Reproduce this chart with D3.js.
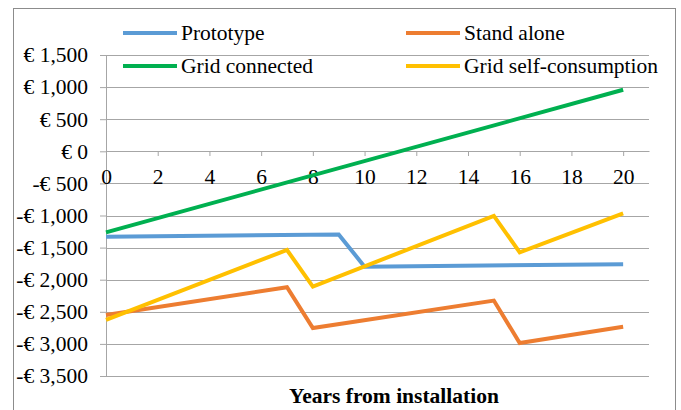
<!DOCTYPE html>
<html>
<head>
<meta charset="utf-8">
<script src="https://cdn.jsdelivr.net/npm/d3@7"></script>
<style>
  body { margin: 0; background: #fff; }
  svg { display: block; font-family: "Liberation Serif", "Times New Roman", serif; }
</style>
</head>
<body>
<svg id="chart" width="681" height="410"></svg>
<script>
// Series breakpoints: [year, value in €]
const prototype = [[0, -1330], [9, -1295], [10, -1797], [20, -1760]];
const standAlone = [[0, -2550], [7, -2117], [8, -2753], [15, -2325], [16, -2986], [20, -2733]];
const gridConnected = [[0, -1262], [20, 958]];
const gridSelf = [[0, -2624], [7, -1537], [8, -2107], [15, -1005], [16, -1573], [20, -967]];

const yTicks = [1500, 1000, 500, 0, -500, -1000, -1500, -2000, -2500, -3000, -3500];
const xTicks = [0, 2, 4, 6, 8, 10, 12, 14, 16, 18, 20];

const series = [
    { name: "Prototype", data: prototype, color: "#5B9BD5", lx: 123, ly: 33 },
    { name: "Stand alone", data: standAlone, color: "#ED7D31", lx: 406, ly: 33 },
    { name: "Grid connected", data: gridConnected, color: "#00B050", lx: 123, ly: 66 },
    { name: "Grid self-consumption", data: gridSelf, color: "#FFC000", lx: 406, ly: 66 }
];

const FONT = "'Liberation Serif', 'Times New Roman', serif";
const FS = "21.5px";

const svg = d3.select("#chart");

// Outer chart border
svg.append("rect")
    .attr("x", 13.5).attr("y", 8.5)
    .attr("width", 662).attr("height", 420)
    .attr("fill", "none")
    .attr("stroke", "#8c8c8c")
    .attr("stroke-width", 1);

const x = d3.scaleLinear().domain([0, 21]).range([106, 649]);
const y = d3.scaleLinear().domain([-3500, 1500]).range([376, 55]);

const fmtEuro = v => (v < 0 ? "-€ " : "€ ") + d3.format(",")(Math.abs(v));

// Horizontal gridlines
svg.append("g")
    .selectAll("line")
    .data(yTicks)
    .enter().append("line")
    .attr("x1", x(0)).attr("x2", x(21))
    .attr("y1", d => Math.round(y(d)) + 0.5)
    .attr("y2", d => Math.round(y(d)) + 0.5)
    .attr("stroke", "#a6a6a6")
    .attr("stroke-width", 1);

// Y axis
const yAxis = svg.append("g")
    .attr("transform", `translate(${x(0)},0)`)
    .call(d3.axisLeft(y).tickValues(yTicks).tickFormat(fmtEuro).tickSize(6).tickPadding(12));
yAxis.attr("font-family", null).attr("font-size", null);
yAxis.select(".domain").attr("stroke", "#a6a6a6");
yAxis.selectAll(".tick line").attr("stroke", "#a6a6a6");
yAxis.selectAll("text")
    .attr("fill", "#000")
    .style("font-size", FS)
    .style("font-family", FONT);

// X axis at value 0
const xAxis = svg.append("g")
    .attr("transform", `translate(0,${Math.round(y(0))})`)
    .call(d3.axisBottom(x).tickValues(xTicks).tickSize(5).tickPadding(13).tickSizeOuter(0));
xAxis.attr("font-family", null).attr("font-size", null);
xAxis.select(".domain").attr("stroke", "#a6a6a6");
xAxis.selectAll(".tick line").attr("stroke", "#a6a6a6");
xAxis.selectAll("text")
    .attr("fill", "#000")
    .style("font-size", FS)
    .style("font-family", FONT);

// Lines
const line = d3.line().x(d => x(d[0])).y(d => y(d[1]));
series.forEach(s => {
    svg.append("path")
        .datum(s.data)
        .attr("d", line)
        .attr("fill", "none")
        .attr("stroke", s.color)
        .attr("stroke-width", 4)
        .attr("stroke-linejoin", "miter");
});

// Legend
series.forEach(s => {
    svg.append("line")
        .attr("x1", s.lx).attr("x2", s.lx + 54)
        .attr("y1", s.ly).attr("y2", s.ly)
        .attr("stroke", s.color)
        .attr("stroke-width", 4);
    svg.append("text")
        .attr("x", s.lx + 58)
        .attr("y", s.ly + 7)
        .style("font-size", FS)
        .style("font-family", FONT)
        .text(s.name);
});

// X axis title
svg.append("text")
    .attr("x", 394)
    .attr("y", 403)
    .attr("text-anchor", "middle")
    .style("font-size", FS)
    .style("font-family", FONT)
    .style("font-weight", "bold")
    .text("Years from installation");
</script>
</body>
</html>
